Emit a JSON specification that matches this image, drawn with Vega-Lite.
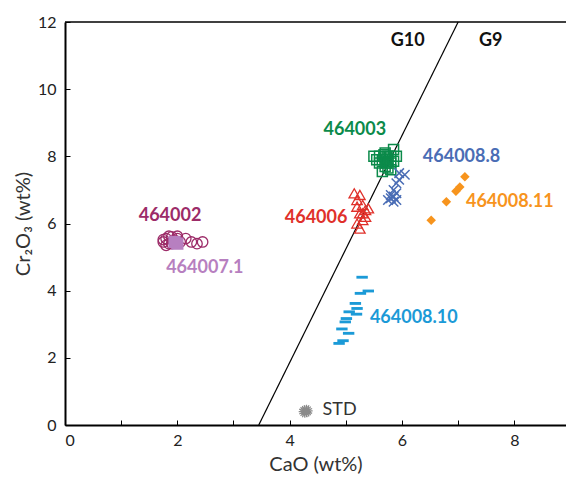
{
  "$schema": "https://vega.github.io/schema/vega-lite/v6.json",
  "autosize": "none",
  "padding": {"left": 65, "top": 22, "right": 0, "bottom": 54},
  "width": 501,
  "height": 403,
  "background": "white",
  "config": {
    "view": {"stroke": null},
    "font": "Lato",
    "axis": {
      "domainColor": "black",
      "domainWidth": 2,
      "tickColor": "black",
      "tickWidth": 1,
      "tickSize": -5,
      "labelFont": "Lato",
      "labelFontSize": 16,
      "labelColor": "#222",
      "titleFont": "Lato",
      "titleFontSize": 20,
      "titleFontWeight": "normal",
      "titleColor": "#333",
      "grid": false
    }
  },
  "layer": [
    {
      "data": {"values": [{"y": 12}]},
      "mark": {"type": "rule", "color": "black", "strokeWidth": 1.5},
      "encoding": {"y": {"field": "y", "type": "quantitative"}}
    },
    {
      "data": {"values": [{"x": 3.45, "y": 0}, {"x": 7.0, "y": 12}]},
      "mark": {"type": "line", "color": "black", "strokeWidth": 1.2},
      "encoding": {
        "x": {
          "field": "x", "type": "quantitative",
          "scale": {"domain": [0, 8.92], "nice": false, "zero": false},
          "axis": {
            "title": "CaO (wt%)",
            "values": [0, 1, 2, 3, 4, 5, 6, 7, 8],
            "format": "d",
            "labelExpr": "datum.value % 2 == 0 ? datum.label : ''",
            "labelPadding": 12,
            "titlePadding": 6
          }
        },
        "y": {
          "field": "y", "type": "quantitative",
          "scale": {"domain": [0, 12], "nice": false},
          "axis": {
            "title": "Cr₂O₃ (wt%)",
            "values": [0, 1, 2, 3, 4, 5, 6, 7, 8, 9, 10, 11, 12],
            "format": "d",
            "labelExpr": "datum.value % 2 == 0 ? datum.label : ''",
            "labelPadding": 14,
            "titlePadding": 4
          }
        }
      }
    },
    {
      "data": {"values": [
        {"x": 1.75, "y": 5.45}, {"x": 1.8, "y": 5.55}, {"x": 1.85, "y": 5.4}, {"x": 1.9, "y": 5.6},
        {"x": 1.95, "y": 5.5}, {"x": 1.8, "y": 5.35}, {"x": 1.85, "y": 5.62}, {"x": 2.0, "y": 5.55},
        {"x": 2.05, "y": 5.45}, {"x": 2.15, "y": 5.55}, {"x": 2.25, "y": 5.45}, {"x": 2.35, "y": 5.4},
        {"x": 2.45, "y": 5.45}, {"x": 1.9, "y": 5.4}, {"x": 1.75, "y": 5.52}, {"x": 2.0, "y": 5.62}
      ]},
      "mark": {"type": "point", "shape": "circle", "filled": false, "color": "#9c2b68", "size": 110, "strokeWidth": 1.3, "opacity": 1},
      "encoding": {"x": {"field": "x", "type": "quantitative"}, "y": {"field": "y", "type": "quantitative"}}
    },
    {
      "data": {"values": [{"x": 1.95, "y": 5.45}, {"x": 2.0, "y": 5.4}]},
      "mark": {"type": "point", "shape": "square", "filled": true, "color": "#b77fc0", "size": 150, "opacity": 1},
      "encoding": {"x": {"field": "x", "type": "quantitative"}, "y": {"field": "y", "type": "quantitative"}}
    },
    {
      "data": {"values": [
        {"x": 5.6, "y": 8.0}, {"x": 5.65, "y": 7.9}, {"x": 5.7, "y": 8.1}, {"x": 5.75, "y": 7.85},
        {"x": 5.8, "y": 8.0}, {"x": 5.85, "y": 8.2}, {"x": 5.55, "y": 7.9}, {"x": 5.7, "y": 7.7},
        {"x": 5.8, "y": 7.8}, {"x": 5.65, "y": 7.55}, {"x": 5.75, "y": 7.65}, {"x": 5.9, "y": 8.0},
        {"x": 5.5, "y": 8.0}, {"x": 5.6, "y": 7.8}, {"x": 5.75, "y": 8.0}, {"x": 5.7, "y": 7.95},
        {"x": 5.85, "y": 7.85}, {"x": 5.8, "y": 7.6}, {"x": 5.68, "y": 8.05}, {"x": 5.72, "y": 7.8}
      ]},
      "mark": {"type": "point", "shape": "square", "filled": false, "color": "#0b8a4a", "size": 100, "strokeWidth": 1.5, "opacity": 1},
      "encoding": {"x": {"field": "x", "type": "quantitative"}, "y": {"field": "y", "type": "quantitative"}}
    },
    {
      "data": {"values": [
        {"x": 5.95, "y": 7.5}, {"x": 6.05, "y": 7.45}, {"x": 5.9, "y": 7.2}, {"x": 5.85, "y": 7.0},
        {"x": 5.9, "y": 6.9}, {"x": 5.8, "y": 6.75}, {"x": 5.85, "y": 6.8}, {"x": 5.9, "y": 6.7},
        {"x": 5.8, "y": 6.85}, {"x": 5.95, "y": 7.3}, {"x": 5.75, "y": 6.7}, {"x": 5.85, "y": 6.65}
      ]},
      "mark": {"type": "point", "shape": "M-1,-1L1,1M1,-1L-1,1", "filled": false, "color": "#4a6db5", "size": 90, "strokeWidth": 1.5, "opacity": 1},
      "encoding": {"x": {"field": "x", "type": "quantitative"}, "y": {"field": "y", "type": "quantitative"}}
    },
    {
      "data": {"values": [
        {"x": 5.15, "y": 6.9}, {"x": 5.25, "y": 6.85}, {"x": 5.2, "y": 6.7}, {"x": 5.3, "y": 6.55},
        {"x": 5.35, "y": 6.4}, {"x": 5.25, "y": 6.3}, {"x": 5.3, "y": 6.1}, {"x": 5.35, "y": 6.2},
        {"x": 5.2, "y": 6.0}, {"x": 5.25, "y": 5.85}, {"x": 5.3, "y": 6.3}, {"x": 5.4, "y": 6.45},
        {"x": 5.2, "y": 6.5}
      ]},
      "mark": {"type": "point", "shape": "triangle-up", "filled": false, "color": "#e0302a", "size": 110, "strokeWidth": 1.3, "opacity": 1},
      "encoding": {"x": {"field": "x", "type": "quantitative"}, "y": {"field": "y", "type": "quantitative"}}
    },
    {
      "data": {"values": [
        {"x": 7.12, "y": 7.39}, {"x": 7.03, "y": 7.09}, {"x": 6.96, "y": 6.96}, {"x": 6.79, "y": 6.65}, {"x": 6.52, "y": 6.1}
      ]},
      "mark": {"type": "point", "shape": "diamond", "filled": true, "color": "#f7941d", "size": 90, "opacity": 1},
      "encoding": {"x": {"field": "x", "type": "quantitative"}, "y": {"field": "y", "type": "quantitative"}}
    },
    {
      "data": {"values": [
        {"x": 5.29, "y": 4.4}, {"x": 5.4, "y": 3.99}, {"x": 5.26, "y": 3.92}, {"x": 5.17, "y": 3.62},
        {"x": 5.2, "y": 3.47}, {"x": 5.06, "y": 3.37}, {"x": 5.19, "y": 3.3}, {"x": 5.01, "y": 3.17},
        {"x": 4.99, "y": 3.07}, {"x": 4.93, "y": 2.86}, {"x": 5.05, "y": 2.73}, {"x": 4.95, "y": 2.51},
        {"x": 4.88, "y": 2.43}
      ]},
      "mark": {"type": "point", "shape": "M-1,-0.25L1,-0.25L1,0.25L-1,0.25Z", "filled": true, "color": "#1b9ad7", "size": 130, "opacity": 1},
      "encoding": {"x": {"field": "x", "type": "quantitative"}, "y": {"field": "y", "type": "quantitative"}}
    },
    {
      "data": {"values": [
        {"x": 4.27, "y": 0.4}, {"x": 4.3, "y": 0.42}
      ]},
      "mark": {"type": "point", "shape": "M-1,0L1,0M0,-1L0,1M-0.7,-0.7L0.7,0.7M-0.7,0.7L0.7,-0.7M-0.4,-0.92L0.4,0.92M0.4,-0.92L-0.4,0.92M-0.92,-0.4L0.92,0.4M-0.92,0.4L0.92,-0.4", "filled": false, "color": "#8a8a8a", "size": 150, "strokeWidth": 1.2, "opacity": 1},
      "encoding": {"x": {"field": "x", "type": "quantitative"}, "y": {"field": "y", "type": "quantitative"}}
    },
    {
      "data": {"values": [
        {"label": "464002", "x": 1.87, "y": 6.22},
        {"label": "464007.1", "x": 2.49, "y": 4.67},
        {"label": "464003", "x": 5.16, "y": 8.78},
        {"label": "464008.8", "x": 7.06, "y": 7.98},
        {"label": "464006", "x": 4.47, "y": 6.16},
        {"label": "464008.11", "x": 7.92, "y": 6.64},
        {"label": "464008.10", "x": 6.21, "y": 3.18},
        {"label": "G10", "x": 6.1, "y": 11.43},
        {"label": "G9", "x": 7.58, "y": 11.43}
      ]},
      "mark": {"type": "text", "font": "Lato", "fontWeight": "bold", "fontSize": 18, "align": "center", "baseline": "middle"},
      "encoding": {
        "x": {"field": "x", "type": "quantitative"},
        "y": {"field": "y", "type": "quantitative"},
        "text": {"field": "label"},
        "color": {
          "field": "label", "type": "nominal", "legend": null,
          "scale": {
            "domain": ["464002", "464007.1", "464003", "464008.8", "464006", "464008.11", "464008.10", "G10", "G9"],
            "range": ["#9c2b68", "#b77fc0", "#0b8a4a", "#4a6db5", "#e0302a", "#f7941d", "#1b9ad7", "#111111", "#111111"]
          }
        }
      }
    },
    {
      "data": {"values": [{"label": "STD", "x": 4.89, "y": 0.45}]},
      "mark": {"type": "text", "font": "Lato", "fontSize": 18, "color": "#333", "align": "center", "baseline": "middle"},
      "encoding": {
        "x": {"field": "x", "type": "quantitative"},
        "y": {"field": "y", "type": "quantitative"},
        "text": {"field": "label"}
      }
    }
  ]
}
